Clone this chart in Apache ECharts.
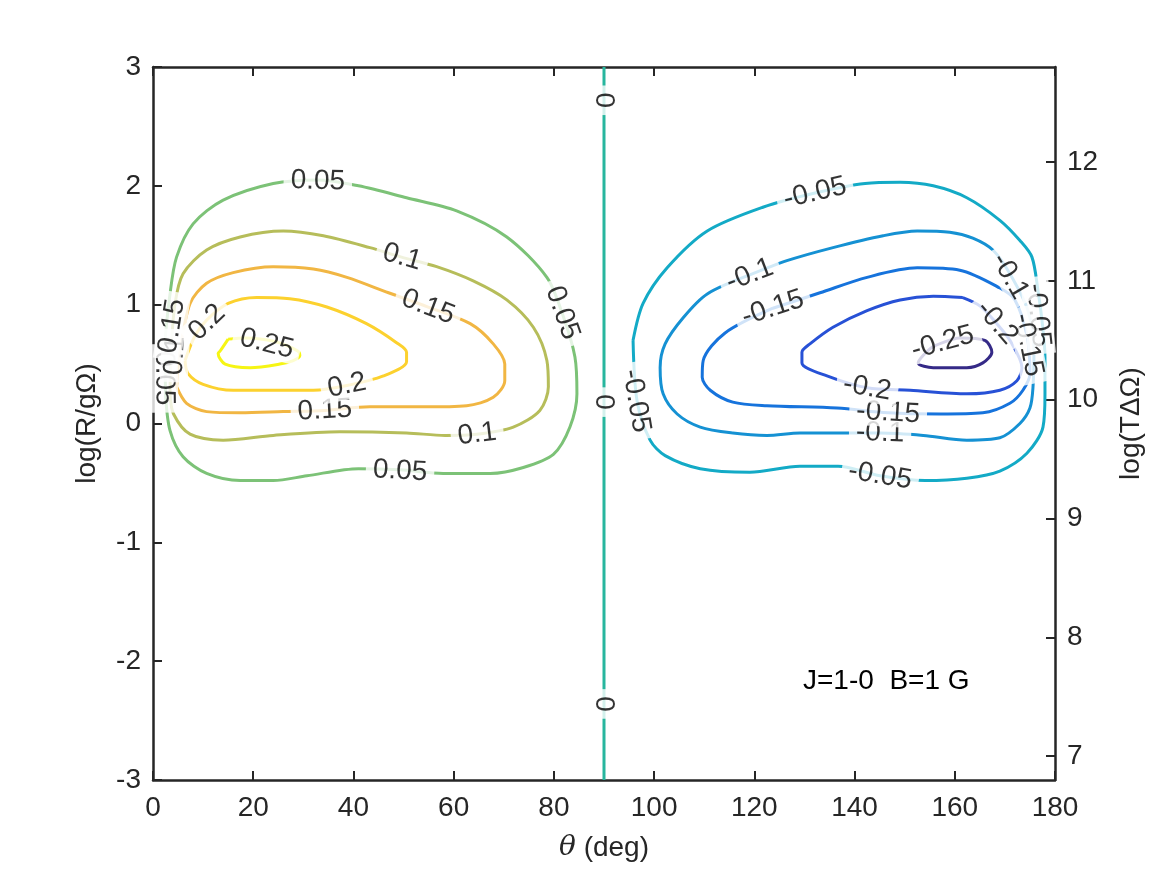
<!DOCTYPE html>
<html style="height: 100%">
<head>
<meta charset="utf-8">
<title>J=1-0 B=1 G</title>
<script src="https://cdn.jsdelivr.net/npm/echarts@6/dist/echarts.min.js"></script>
</head>
<body style="height: 100%; margin: 0; background-color: #fff;">
<div id="container" style="width: 1167px; height: 875px;"></div>
<script type="text/javascript">
// contour levels and their colours (parula-like)
var levels = [-0.25, -0.2, -0.15, -0.1, -0.05, 0, 0.05, 0.1, 0.15, 0.2, 0.25];
var levelColors = ['#352a87', '#2751d6', '#1673dc', '#1591d3', '#13aac6', '#27b69e',
                   '#7cc277', '#b6bd5a', '#f1b643', '#fcd12e', '#f6f514'];

var rightTicks = [7, 8, 9, 10, 11, 12];

// contour lines, [theta (deg), log(R/gOmega)]
var c0 = [[90, -3], [90, 3]];
var c005 = [[2.5, 0.25], [2.4, 0.64], [3.4, 1.09], [4.7, 1.40], [8.0, 1.68], [14.0, 1.88], [24.0, 2.02],
  [32.9, 2.05], [41.0, 2.00], [50.6, 1.90], [60.6, 1.79], [70.6, 1.57], [78.6, 1.23], [81.8, 0.91],
  [84.2, 0.56], [84.6, 0.25], [83.2, -0.03], [79.9, -0.26], [73.9, -0.37], [67.3, -0.42], [57.9, -0.42],
  [49.3, -0.39], [41.0, -0.38], [30.7, -0.44], [24.0, -0.48], [17.4, -0.48], [10.7, -0.42], [6.0, -0.28],
  [3.4, -0.06], [2.5, 0.25]];
var c010 = [[3.4, 0.25], [3.6, 0.61], [4.4, 1.01], [6.0, 1.26], [10.7, 1.46], [17.4, 1.57], [26.0, 1.62],
  [34.0, 1.58], [43.3, 1.48], [49.6, 1.40], [56.6, 1.32], [63.9, 1.20], [70.6, 1.04], [75.9, 0.81],
  [78.6, 0.53], [78.9, 0.31], [77.2, 0.11], [71.9, -0.03], [64.6, -0.09], [58.3, -0.10], [50.6, -0.08],
  [37.3, -0.07], [24.0, -0.10], [14.0, -0.14], [7.4, -0.09], [4.1, 0.08], [3.4, 0.25]];
var c015 = [[4.7, 0.31], [5.4, 0.61], [7.4, 1.01], [10.7, 1.18], [16.0, 1.27], [24.0, 1.32], [32.0, 1.30],
  [38.7, 1.23], [47.0, 1.10], [54.9, 0.98], [63.3, 0.84], [67.9, 0.67], [70.2, 0.50], [70.2, 0.36],
  [67.9, 0.22], [62.6, 0.15], [53.9, 0.14], [43.3, 0.14], [34.3, 0.11], [26.0, 0.10], [17.4, 0.09],
  [10.7, 0.10], [6.7, 0.17], [4.7, 0.31]];
var c020 = [[6.4, 0.53], [8.4, 0.74], [10.7, 0.87], [15.0, 1.01], [20.7, 1.06], [27.3, 1.05], [34.7, 0.98],
  [42.6, 0.84], [48.6, 0.68], [50.6, 0.60], [50.6, 0.52], [46.0, 0.40], [38.7, 0.32], [32.0, 0.28],
  [24.0, 0.28], [16.0, 0.28], [10.0, 0.33], [7.0, 0.42], [6.4, 0.53]];
var c025 = [[15.0, 0.71], [13.4, 0.61], [13.0, 0.59], [14.4, 0.50], [19.4, 0.47], [25.3, 0.50], [28.0, 0.53],
  [29.3, 0.57], [28.9, 0.61], [24.3, 0.69], [18.4, 0.72], [15.0, 0.71]];
var cm005 = [[95.8, 0.70], [97.8, 1.01], [102.6, 1.31], [110.6, 1.62], [121.7, 1.82], [132.1, 1.94],
  [142.1, 2.02], [149.1, 2.03], [155.7, 2.00], [162.4, 1.90], [169.0, 1.71], [173.0, 1.54], [175.4, 1.40],
  [176.6, 1.12], [177.4, 0.87], [178.0, 0.56], [178.0, 0.25], [177.6, -0.03], [174.4, -0.25], [169.0, -0.40],
  [162.4, -0.46], [154.1, -0.48], [145.1, -0.44], [136.7, -0.36], [129.1, -0.36], [119.1, -0.41],
  [109.2, -0.38], [102.2, -0.27], [99.2, -0.14], [96.6, 0.19], [95.8, 0.70]];
var cm010 = [[119.1, 1.25], [126.5, 1.37], [135.7, 1.48], [145.7, 1.58], [152.5, 1.62], [159.0, 1.61],
  [163.6, 1.56], [167.6, 1.46], [171.0, 1.26], [174.6, 0.95], [175.8, 0.61], [175.6, 0.30], [175.0, 0.13],
  [173.0, 0.00], [169.0, -0.12], [162.4, -0.14], [153.7, -0.10], [145.1, -0.08], [136.5, -0.08],
  [129.1, -0.08], [122.5, -0.10], [115.7, -0.08], [109.2, -0.03], [104.6, 0.08], [101.8, 0.25],
  [101.2, 0.47], [102.2, 0.67], [105.8, 0.89], [110.6, 1.09], [119.1, 1.25]];
var cm015 = [[123.7, 0.97], [133.1, 1.10], [142.5, 1.23], [152.5, 1.31], [161.0, 1.29], [169.0, 1.14],
  [172.0, 1.04], [174.4, 0.74], [175.0, 0.42], [173.6, 0.28], [171.0, 0.17], [165.6, 0.09], [157.1, 0.08],
  [146.7, 0.09], [136.5, 0.13], [122.5, 0.15], [115.7, 0.18], [111.2, 0.28], [109.6, 0.39], [109.8, 0.53],
  [114.1, 0.76], [123.7, 0.97]];
var cm020 = [[161.6, 1.06], [155.7, 1.07], [149.1, 1.04], [142.5, 0.95], [135.7, 0.81], [131.1, 0.67],
  [129.5, 0.60], [129.5, 0.51], [134.5, 0.40], [142.5, 0.30], [151.1, 0.28], [162.4, 0.25], [169.0, 0.28],
  [172.4, 0.36], [173.4, 0.47], [171.0, 0.70], [168.4, 0.84], [165.0, 0.99], [161.6, 1.06]];
var cm025 = [[157.6, 0.68], [161.0, 0.72], [166.0, 0.70], [167.4, 0.60], [165.6, 0.51], [162.4, 0.47],
  [155.7, 0.47], [152.7, 0.51], [155.1, 0.63], [157.6, 0.68]];

// inline contour labels: [theta, value, text]
var contourLabels = [
  [32.9, 2.04, '0.05'], [81.7, 0.93, '0.05'], [49.3, -0.40, '0.05'], [2.2, 0.38, '0.05'],
  [49.7, 1.40, '0.1'], [64.7, -0.09, '0.1'], [4.4, 0.57, '0.1'],
  [54.9, 0.98, '0.15'], [34.3, 0.11, '0.15'], [3.8, 0.82, '0.15'],
  [10.8, 0.85, '0.2'], [38.7, 0.32, '0.2'],
  [22.7, 0.67, '0.25'],
  [90, 2.72, '0'], [90, 0.18, '0'], [90, -2.36, '0'],
  [132.1, 1.94, '-0.05'], [96.4, 0.19, '-0.05'], [145.1, -0.44, '-0.05'], [176.6, 0.91, '-0.05'],
  [119.1, 1.25, '-0.1'], [145.1, -0.08, '-0.1'], [171.0, 1.24, '-0.1'],
  [123.7, 0.97, '-0.15'], [146.7, 0.09, '-0.15'], [174.6, 0.66, '-0.15'],
  [142.5, 0.30, '-0.2'], [168.4, 0.85, '-0.2'],
  [157.6, 0.68, '-0.25']
];

var contours = [
  {level: 0, pts: c0},
  {level: 0.05, pts: c005}, {level: 0.1, pts: c010}, {level: 0.15, pts: c015},
  {level: 0.2, pts: c020}, {level: 0.25, pts: c025},
  {level: -0.05, pts: cm005}, {level: -0.1, pts: cm010}, {level: -0.15, pts: cm015},
  {level: -0.2, pts: cm020}, {level: -0.25, pts: cm025}
];

var FONT = 'Liberation Sans, Arial, Helvetica, sans-serif';
var AXC = '#262626';
var FS = 28;

function colorOf(level) {
  for (var i = 0; i < levels.length; i++) {
    if (Math.abs(levels[i] - level) < 1e-9) return levelColors[i];
  }
  return '#000';
}

var lineSeries = [];
for (var k = 0; k < contours.length; k++) {
  lineSeries.push({
    type: 'line',
    data: contours[k].pts,
    showSymbol: false,
    smooth: 0.3,
    silent: true,
    z: 2,
    lineStyle: {width: 3, color: colorOf(contours[k].level)}
  });
}

var axisBase = {
  type: 'value',
  axisLine: {show: true, onZero: false, lineStyle: {color: AXC, width: 2.5}},
  axisTick: {show: true, inside: true, length: 9, lineStyle: {color: AXC, width: 2}},
  splitLine: {show: false},
  axisLabel: {color: AXC, fontSize: FS, fontFamily: FONT, margin: 12}
};
function ax(extra) {
  return echarts.util.merge(echarts.util.clone(axisBase), extra, true);
}

var dom = document.getElementById('container');
var myChart = echarts.init(dom);
var option = {
  animation: false,
  backgroundColor: '#fff',
  grid: {left: 153, right: 112, top: 67, bottom: 95, outerBoundsMode: 'none'},
  xAxis: [
    ax({position: 'bottom', min: 0, max: 180, interval: 20,
        axisLabel: {margin: 14},
        name: '{i|θ} (deg)', nameLocation: 'middle', nameGap: 54,
        nameTextStyle: {color: AXC, fontSize: FS, fontFamily: FONT,
                        rich: {i: {fontStyle: 'italic', fontSize: FS, fontFamily: 'DejaVu Serif', color: AXC}}}}),
    ax({position: 'top', min: 0, max: 180, interval: 20, axisLabel: {show: false}})
  ],
  yAxis: [
    ax({position: 'left', min: -3, max: 3, interval: 1,
        name: 'log(R/gΩ)', nameLocation: 'middle', nameGap: 52,
        nameTextStyle: {color: AXC, fontSize: FS, fontFamily: FONT}}),
    ax({position: 'right', min: 6.8, max: 12.8,
        axisTick: {customValues: rightTicks},
        axisLabel: {customValues: rightTicks},
        name: 'log(TΔΩ)', nameLocation: 'middle', nameGap: 62, nameRotate: 90,
        nameTextStyle: {color: AXC, fontSize: FS, fontFamily: FONT}})
  ],
  graphic: [{
    type: 'text', left: 803, top: 667,
    style: {text: 'J=1-0  B=1 G', fill: '#000', font: '28px ' + FONT}
  }],
  series: lineSeries
};
myChart.setOption(option, true);

// rotate each inline label along its contour, measured in pixels
function labelAngle(lab) {
  var level = parseFloat(lab[2]);
  var p = myChart.convertToPixel({xAxisIndex: 0, yAxisIndex: 0}, [lab[0], lab[1]]);
  var best = null, bestD = Infinity;
  for (var k = 0; k < contours.length; k++) {
    if (Math.abs(contours[k].level - level) > 1e-9) continue;
    var px = contours[k].pts.map(function (q) {
      return myChart.convertToPixel({xAxisIndex: 0, yAxisIndex: 0}, q);
    });
    for (var i = 0; i < px.length; i++) {
      var d = Math.hypot(px[i][0] - p[0], px[i][1] - p[1]);
      if (d < bestD) { bestD = d; best = {px: px, i: i}; }
    }
  }
  var n = best.px.length;
  var a = best.px[Math.max(best.i - 1, 0)];
  var b = best.px[Math.min(best.i + 1, n - 1)];
  var ang = Math.atan2(-(b[1] - a[1]), b[0] - a[0]) * 180 / Math.PI;
  while (ang >= 90) ang -= 180;
  while (ang < -90) ang += 180;
  return ang;
}

var labelData = contourLabels.map(function (lab) {
  return {value: [lab[0], lab[1]], name: lab[2], label: {rotate: labelAngle(lab)}};
});

myChart.setOption({
  series: lineSeries.concat([{
    type: 'scatter',
    data: labelData,
    symbolSize: 1,
    silent: true,
    z: 5,
    itemStyle: {color: 'rgba(0,0,0,0)'},
    label: {
      show: true, position: 'inside', formatter: function (p) { return p.name; },
      color: '#000', fontSize: FS, fontFamily: FONT,
      backgroundColor: '#fff', padding: [0, 7]
    }
  }])
});
</script>
</body>
</html>
